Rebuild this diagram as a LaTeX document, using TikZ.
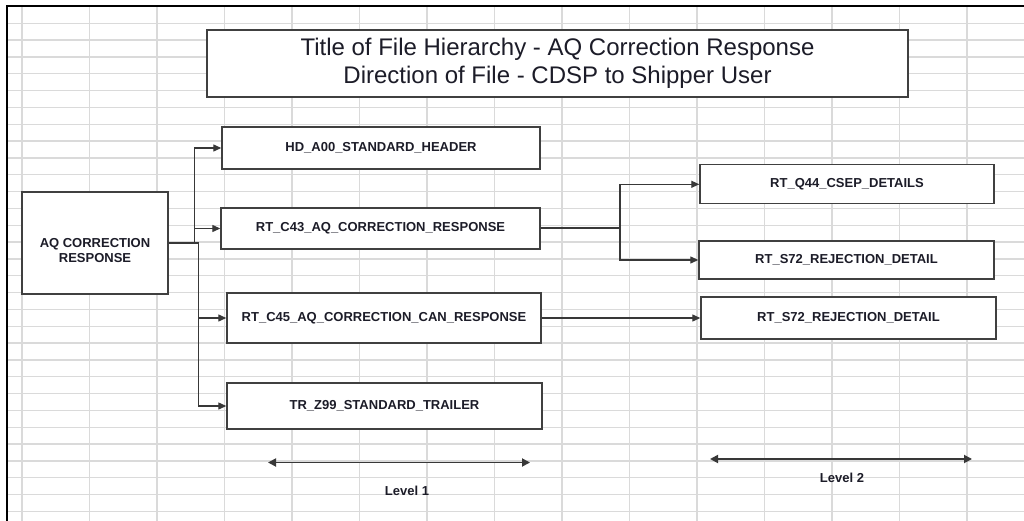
\documentclass[tikz,border=0pt]{standalone}
\usepackage{fontspec}
\setmainfont{Liberation Sans}
\usetikzlibrary{arrows.meta}
\definecolor{gridc}{HTML}{DADADA}
\definecolor{boxc}{HTML}{404040}
\definecolor{linec}{HTML}{383838}
\definecolor{txtc}{HTML}{1C1C28}
\tikzset{
  box/.style={draw=boxc, line width=1.4pt, fill=white, rectangle, inner sep=0pt,
    text=txtc, font=\fontsize{13}{15}\selectfont\bfseries, align=center},
  arr/.style={draw=linec, line width=1.2pt, -{Triangle[length=8pt,width=7pt]}},
  trunk/.style={draw=linec, line width=2pt},
  lvl/.style={draw=linec, line width=1.8pt, {Triangle[length=8pt,width=8pt]}-{Triangle[length=8pt,width=8pt]}},
  lbl/.style={text=txtc, font=\fontsize{13}{15}\selectfont\bfseries, inner sep=0pt}
}
\begin{document}
\begin{tikzpicture}[x=1pt,y=-1pt]
\useasboundingbox (0,0) rectangle (1024,521);
\fill[white] (0,0) rectangle (1024,521);
% grid
\foreach \i in {0,...,14} {
  \draw[gridc, line width=1.3pt] ({22+67.5*\i},6) -- ({22+67.5*\i},521);
}
\foreach \j in {0,...,29} {
  \draw[gridc, line width=1.3pt] (7,{23.3+16.83*\j}) -- (1024,{23.3+16.83*\j});
}
% border
\draw[black, line width=2.8pt] (7,521) -- (7,6) -- (1024,6);
% title
\node[box, minimum width=701pt, minimum height=67pt, font=\fontsize{24}{28.3}\selectfont] (title) at (557.5,63.5)
  {Title of File Hierarchy - AQ Correction Response\\Direction of File - CDSP to Shipper User};
% left nodes
\node[box, minimum width=146pt, minimum height=102pt] (aq) at (95,243) {};
\node[lbl, align=center] (aqt) at (95,251) {AQ CORRECTION\\RESPONSE};
\node[box, minimum width=318pt, minimum height=42pt] (hd) at (381,148) {HD\_A00\_STANDARD\_HEADER};
\node[box, minimum width=319pt, minimum height=41pt] (c43) at (380.5,228.5) {RT\_C43\_AQ\_CORRECTION\_RESPONSE};
\node[box, minimum width=314pt, minimum height=50pt] (c45) at (384,318) {RT\_C45\_AQ\_CORRECTION\_CAN\_RESPONSE};
\node[box, minimum width=315pt, minimum height=46pt] (tr) at (384.5,406) {TR\_Z99\_STANDARD\_TRAILER};
% right nodes
\node[box, minimum width=294pt, minimum height=39pt] (q44) at (847,184.3) {RT\_Q44\_CSEP\_DETAILS};
\node[box, minimum width=295pt, minimum height=38pt] (s72a) at (846.5,260) {RT\_S72\_REJECTION\_DETAIL};
\node[box, minimum width=295pt, minimum height=42pt] (s72b) at (848.5,318) {RT\_S72\_REJECTION\_DETAIL};
% left tree
\coordinate (j1) at (194.5,243);
\coordinate (j2) at (198.5,243);
\draw[arr] (j1) |- (hd.west);
\draw[arr] (j1) |- (c43.west);
\draw[arr] (j2) |- (c45.west);
\draw[arr] (j2) |- (tr.west);
\draw[trunk] (aq.east) -- (j2);
% right tree
\coordinate (j3) at (620,228.5);
\draw[arr] (j3) |- (q44.west);
\draw[arr] (j3) |- (s72a.west);
\draw[trunk] (c43.east) -- (j3);
\draw[arr] (c45.east) -- (s72b.west);
% levels
\coordinate (l1a) at (268,462.5);
\coordinate (l1b) at (530,462.5);
\coordinate (l2a) at (710,459);
\coordinate (l2b) at (972,459);
\draw[lvl] (l1a) -- (l1b);
\draw[lvl] (l2a) -- (l2b);
\node[lbl] (lv1) at (407,491) {Level 1};
\node[lbl] (lv2) at (842,478) {Level 2};
\end{tikzpicture}
\end{document}
